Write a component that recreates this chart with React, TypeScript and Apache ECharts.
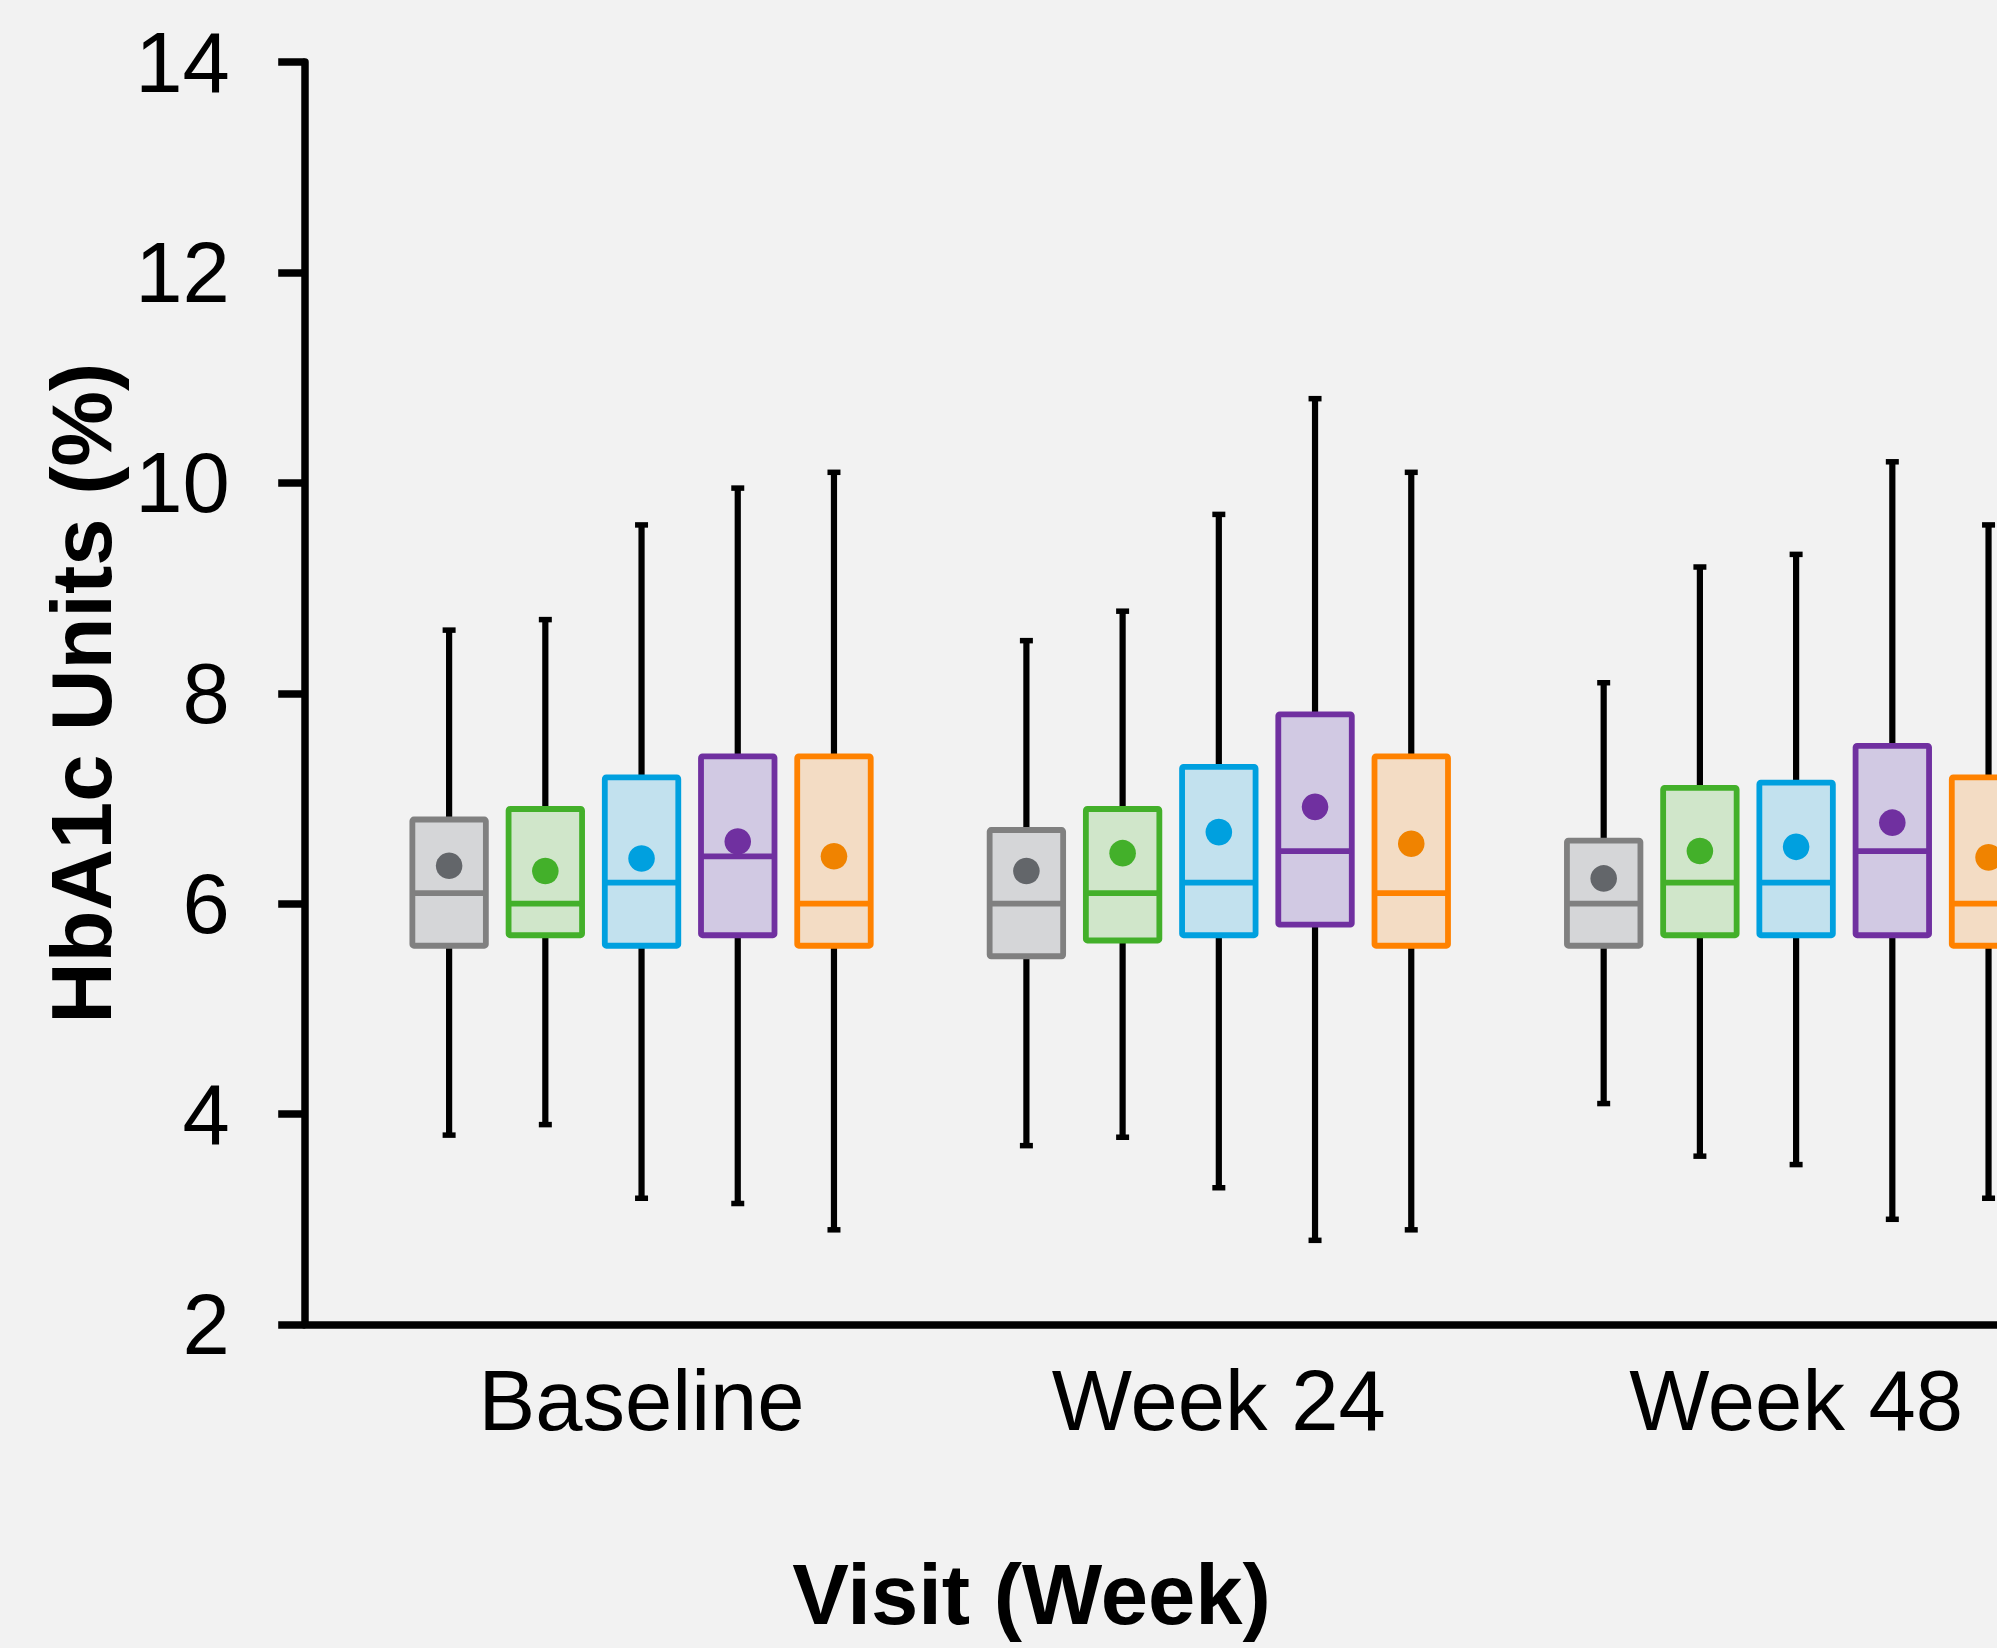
import React, { useEffect, useRef } from "react";
import * as echarts from "echarts";

// Visits (x categories)
const visits = ["Baseline", "Week 24", "Week 48"];
// Y axis range
const yMin = 2;
const yMax = 14;
const yStep = 2;

// Each row: [low, q1, median, q3, high, mean] per visit
const grayStats = [
  [3.8, 5.6, 6.1, 6.8, 8.6, 6.36],
  [3.7, 5.5, 6.0, 6.7, 8.5, 6.31],
  [4.1, 5.6, 6.0, 6.6, 8.1, 6.24],
];
const greenStats = [
  [3.9, 5.7, 6.0, 6.9, 8.7, 6.31],
  [3.78, 5.65, 6.1, 6.9, 8.78, 6.48],
  [3.6, 5.7, 6.2, 7.1, 9.2, 6.5],
];
const blueStats = [
  [3.2, 5.6, 6.2, 7.2, 9.6, 6.43],
  [3.3, 5.7, 6.2, 7.3, 9.7, 6.68],
  [3.52, 5.7, 6.2, 7.15, 9.32, 6.54],
];
const purpleStats = [
  [3.15, 5.7, 6.45, 7.4, 9.95, 6.59],
  [2.8, 5.8, 6.5, 7.8, 10.8, 6.92],
  [3.0, 5.7, 6.5, 7.5, 10.2, 6.77],
];
const orangeStats = [
  [2.9, 5.6, 6.0, 7.4, 10.1, 6.45],
  [2.9, 5.6, 6.1, 7.4, 10.1, 6.57],
  [3.2, 5.6, 6.0, 7.2, 9.6, 6.44],
];

const groups = [
  { name: "Group 1", stats: grayStats, stroke: "#808080", fill: "#D5D6D8", dot: "#63666A" },
  { name: "Group 2", stats: greenStats, stroke: "#43B02A", fill: "#D0E6CA", dot: "#43B02A" },
  { name: "Group 3", stats: blueStats, stroke: "#00A0DF", fill: "#C2E1EE", dot: "#00A0DF" },
  { name: "Group 4", stats: purpleStats, stroke: "#7030A0", fill: "#D1C9E3", dot: "#7030A0" },
  { name: "Group 5", stats: orangeStats, stroke: "#FF8200", fill: "#F3DCC4", dot: "#F08300" },
];

const FONT = '"Liberation Sans", Arial, Helvetica, sans-serif';
const CHART_W = 2200;
const CHART_H = 1648;
const GRID_TOP = 62;
const GRID_BOTTOM = 323.5;
const GRID_RIGHT = 115.25;

export default function App() {
  const ref = useRef<HTMLDivElement>(null);

  useEffect(() => {
    if (!ref.current) return;
    const chart = echarts.init(ref.current, null, { renderer: "svg" });
    const n = groups.length;

    const series = groups.map((g, sIdx) => ({
      type: "custom",
      name: g.name,
      xAxisIndex: 0,
      yAxisIndex: 0,
      data: g.stats.map((s, i) => [i, ...s]),
      encode: { x: 0, y: [1, 2, 3, 4, 5, 6] },
      renderItem: (params: any, api: any) => {
        const cat = api.value(0);
        const low = api.value(1);
        const q1 = api.value(2);
        const med = api.value(3);
        const q3 = api.value(4);
        const high = api.value(5);
        const mean = api.value(6);
        const band = api.size([1, 0])[0];
        const off = (sIdx - (n - 1) / 2) * (band / 6);
        const cx = api.coord([cat, yMin])[0] + off;
        const yy = (v: number) => api.coord([cat, v])[1];
        const bw = band * 0.1273;
        const capW = 13;
        const black = "#000";
        return {
          type: "group",
          children: [
            {
              type: "line",
              shape: { x1: cx, y1: yy(low), x2: cx, y2: yy(high) },
              style: { stroke: black, lineWidth: 6.2 },
            },
            {
              type: "line",
              shape: { x1: cx - capW / 2, y1: yy(high), x2: cx + capW / 2, y2: yy(high) },
              style: { stroke: black, lineWidth: 5.5 },
            },
            {
              type: "line",
              shape: { x1: cx - capW / 2, y1: yy(low), x2: cx + capW / 2, y2: yy(low) },
              style: { stroke: black, lineWidth: 5.5 },
            },
            {
              type: "rect",
              shape: { x: cx - bw / 2, y: yy(q3), width: bw, height: yy(q1) - yy(q3), r: 1.5 },
              style: { fill: g.fill, stroke: g.stroke, lineWidth: 5.8, lineJoin: "round" },
            },
            {
              type: "line",
              shape: { x1: cx - bw / 2, y1: yy(med), x2: cx + bw / 2, y2: yy(med) },
              style: { stroke: g.stroke, lineWidth: 5.8 },
            },
            {
              type: "circle",
              shape: { cx: cx, cy: yy(mean), r: 13.3 },
              style: { fill: g.dot },
            },
          ],
        };
      },
    }));

    chart.setOption({
      animation: false,
      backgroundColor: "#F2F2F2",
      grid: [
        { left: 352.9, right: GRID_RIGHT, top: GRID_TOP, bottom: GRID_BOTTOM, containLabel: false },
        { left: 304.7, right: GRID_RIGHT, top: GRID_TOP, bottom: GRID_BOTTOM, containLabel: false },
      ],
      xAxis: [
        {
          gridIndex: 0,
          type: "category",
          data: visits,
          boundaryGap: true,
          axisLine: { show: false },
          axisTick: { show: false },
          axisLabel: {
            fontSize: 85,
            fontFamily: FONT,
            color: "#000",
            margin: 33,
          },
        },
        {
          gridIndex: 1,
          type: "value",
          min: 0,
          max: 1,
          axisLine: { show: true, lineStyle: { color: "#000", width: 7.5 } },
          axisTick: { show: false },
          axisLabel: { show: false },
          splitLine: { show: false },
        },
      ],
      yAxis: [
        {
          gridIndex: 0,
          type: "value",
          min: yMin,
          max: yMax,
          interval: yStep,
          show: false,
          splitLine: { show: false },
        },
        {
          gridIndex: 1,
          type: "value",
          min: yMin,
          max: yMax,
          interval: yStep,
          name: "HbA1c Units (%)",
          nameLocation: "middle",
          nameRotate: 90,
          nameGap: 178,
          nameTextStyle: {
            fontSize: 85,
            fontWeight: "bold",
            fontFamily: FONT,
            color: "#000",
          },
          axisLine: { show: true, lineStyle: { color: "#000", width: 7.5 } },
          axisTick: { show: true, inside: false, length: 26.5, lineStyle: { color: "#000", width: 7.5 } },
          axisLabel: {
            fontSize: 85,
            fontFamily: FONT,
            color: "#000",
            margin: 75,
          },
          splitLine: { show: false },
        },
      ],
      graphic: [
        {
          type: "text",
          x: 1031.5,
          y: 1594.6,
          style: {
            text: "Visit (Week)",
            fontSize: 85,
            fontWeight: "bold",
            fontFamily: FONT,
            fill: "#000",
            align: "center",
            verticalAlign: "middle",
          },
        },
      ],
      series,
    });

    return () => {
      chart.dispose();
    };
  }, []);

  return (
    <div
      style={{
        position: "fixed",
        left: 0,
        top: 0,
        width: 1997,
        height: 1648,
        overflow: "hidden",
        background: "#F2F2F2",
      }}
    >
      <div ref={ref} style={{ width: CHART_W, height: CHART_H }} />
    </div>
  );
}
